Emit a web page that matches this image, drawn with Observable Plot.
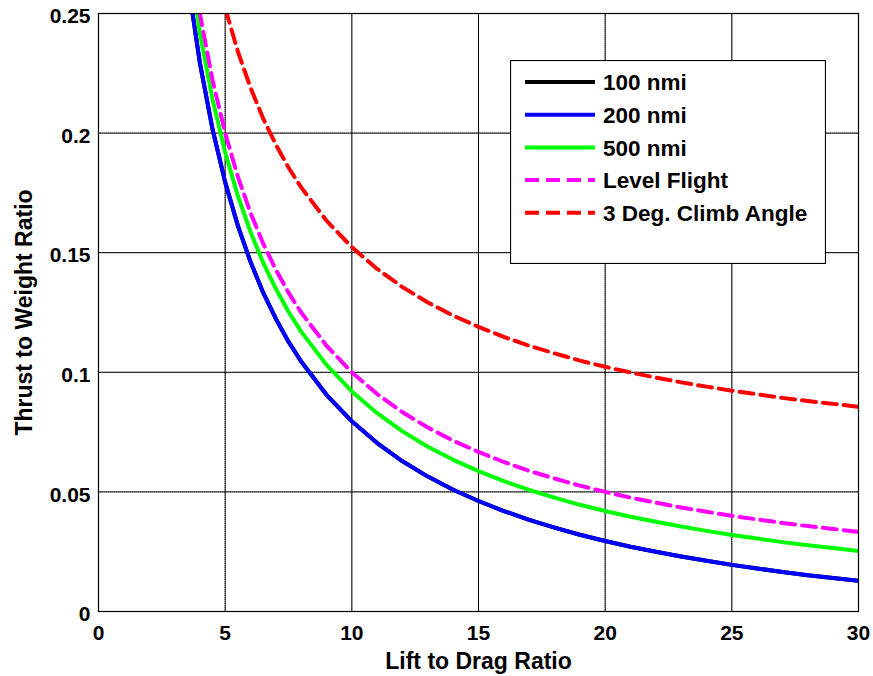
<!DOCTYPE html>
<html><head><meta charset="utf-8">
<script src="https://cdn.jsdelivr.net/npm/d3@7"></script>
<script src="https://cdn.jsdelivr.net/npm/@observablehq/plot@0.6"></script>
<style>
body{margin:0;background:#fff;}
#wrap{position:relative;width:873px;height:676px;overflow:hidden;}
svg text{font-family:"Liberation Sans",Arial,sans-serif;}
</style></head>
<body><div id="wrap"></div>
<script>
const liftToDrag = [3.5,4,4.5,5,5.5,6,6.5,7,7.5,8,9,10,11,12,13,14,15,16,17,18,19,20,21,22,23,24,25,26,27,28,29,30];
const nmi100 = [0.2652,0.2295,0.2017,0.1795,0.1613,0.1462,0.1333,0.1224,0.1128,0.1045,0.0906,0.0795,0.0704,0.0628,0.0564,0.0509,0.0462,0.042,0.0383,0.0351,0.0321,0.0295,0.0271,0.025,0.023,0.0212,0.0195,0.018,0.0165,0.0152,0.014,0.0128];
const nmi200 = [0.2652,0.2295,0.2017,0.1795,0.1613,0.1462,0.1333,0.1224,0.1128,0.1045,0.0906,0.0795,0.0704,0.0628,0.0564,0.0509,0.0462,0.042,0.0383,0.0351,0.0321,0.0295,0.0271,0.025,0.023,0.0212,0.0195,0.018,0.0165,0.0152,0.014,0.0128];
const nmi500 = [0.2777,0.242,0.2142,0.192,0.1738,0.1587,0.1458,0.1349,0.1253,0.117,0.1031,0.092,0.0829,0.0753,0.0689,0.0634,0.0587,0.0545,0.0508,0.0476,0.0446,0.042,0.0396,0.0375,0.0355,0.0337,0.032,0.0305,0.029,0.0277,0.0265,0.0253];
const levelFlight = [0.2857,0.25,0.2222,0.2,0.1818,0.1667,0.1538,0.1429,0.1333,0.125,0.1111,0.1,0.0909,0.0833,0.0769,0.0714,0.0667,0.0625,0.0588,0.0556,0.0526,0.05,0.0476,0.0455,0.0435,0.0417,0.04,0.0385,0.037,0.0357,0.0345,0.0333];
const climb3deg = [0.338,0.3023,0.2745,0.2523,0.2341,0.219,0.2061,0.1952,0.1856,0.1773,0.1634,0.1523,0.1432,0.1356,0.1292,0.1237,0.119,0.1148,0.1111,0.1079,0.1049,0.1023,0.0999,0.0978,0.0958,0.094,0.0923,0.0908,0.0893,0.088,0.0868,0.0856];
const xTicks = [0,5,10,15,20,25,30];
const yTicks = [0,0.05,0.1,0.15,0.2,0.25];
const yTickLabels = ["0","0.05","0.1","0.15","0.2","0.25"];

const seriesDefs = [
  {name:"100 nmi", values:nmi100, color:"#000000", dash:null},
  {name:"200 nmi", values:nmi200, color:"#0000ff", dash:null},
  {name:"500 nmi", values:nmi500, color:"#00ff00", dash:null},
  {name:"Level Flight", values:levelFlight, color:"#ff00ff", dash:"14,7"},
  {name:"3 Deg. Climb Angle", values:climb3deg, color:"#ff0000", dash:"14,7"}
];
const rows = s => liftToDrag.map((x,i)=>({x, y:s.values[i]}));

const plot = Plot.plot({
  width:873, height:676,
  marginLeft:98, marginRight:15, marginTop:13, marginBottom:65,
  style:{fontFamily:"Liberation Sans, Arial, sans-serif", fontSize:"21px", fontWeight:"bold", background:"#fff"},
  x:{domain:[0,30], ticks:xTicks},
  y:{domain:[0,0.25], ticks:yTicks},
  marks:[
    Plot.gridX(xTicks.slice(1,-1), {stroke:"#999", strokeOpacity:1, strokeWidth:1, strokeDasharray:"1,1"}),
    Plot.gridY(yTicks.slice(1,-1), {stroke:"#999", strokeOpacity:1, strokeWidth:1, strokeDasharray:"1,1"}),
    Plot.axisX(xTicks, {tickSize:0, tickPadding:14, fontSize:21, fontWeight:"bold", label:null, tickFormat:d=>String(d)}),
    Plot.axisY(yTicks, {tickSize:0, tickPadding:8, fontSize:21, fontWeight:"bold", label:null, dy:3, tickFormat:(d,i)=>yTickLabels[i]}),
    Plot.tickX(xTicks, {x:d=>d, y1:0, y2:0.003, stroke:"#000"}),
    Plot.tickY(yTicks, {y:d=>d, x1:0, x2:0.12, stroke:"#000"}),
    ...seriesDefs.map(s => Plot.line(rows(s), {x:"x", y:"y", stroke:s.color, strokeWidth:4, strokeDasharray:s.dash, clip:true, curve:"linear"})),
    Plot.frame({stroke:"#000", strokeWidth:1.2}),
    Plot.text(["Lift to Drag Ratio"], {frameAnchor:"bottom", textAnchor:"middle", dy:57, fontSize:23, fontWeight:"bold", fill:"#000", text:d=>d}),
    Plot.text(["Thrust to Weight Ratio"], {frameAnchor:"left", textAnchor:"middle", dx:-74, rotate:-90, fontSize:23, fontWeight:"bold", fill:"#000", text:d=>d})
  ]
});
document.getElementById("wrap").appendChild(plot);

// Legend
const leg = d3.select("#wrap").append("svg")
  .attr("width",316).attr("height",204)
  .style("position","absolute").style("left","510px").style("top","60px");
leg.append("rect").attr("x",0.5).attr("y",0.5).attr("width",315).attr("height",203)
  .attr("fill","#fff").attr("stroke","#000").attr("stroke-width",1.2);
seriesDefs.forEach((s,i)=>{
  const y = 22 + i*32.7;
  leg.append("line").attr("x1",15).attr("x2",85).attr("y1",y).attr("y2",y)
    .attr("stroke",s.color).attr("stroke-width",4).attr("stroke-dasharray",s.dash);
  leg.append("text").attr("x",93).attr("y",y).attr("dy","0.36em")
    .attr("font-size",22.5).attr("font-weight","bold").attr("fill","#000").text(s.name);
});
</script></body></html>
